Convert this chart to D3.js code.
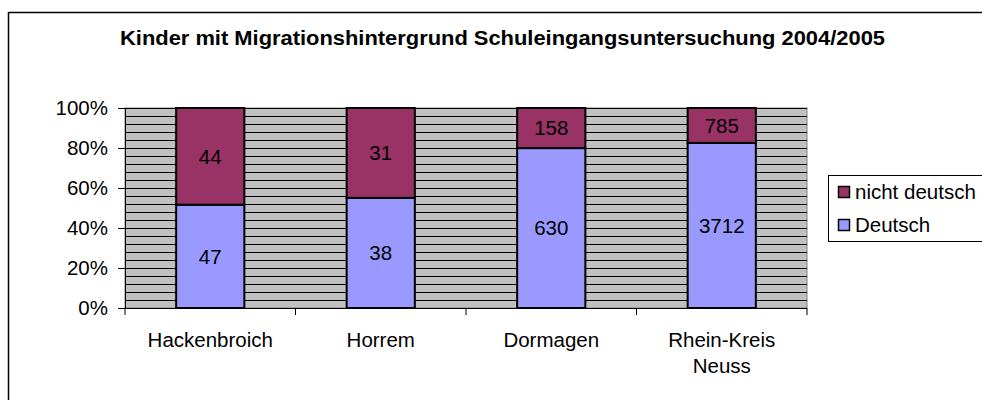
<!DOCTYPE html>
<html><head><meta charset="utf-8">
<script src="https://cdn.jsdelivr.net/npm/d3@7"></script>
<style>body{margin:0;background:#fff;overflow:hidden}svg{display:block;font-family:"Liberation Sans",Arial,sans-serif}</style>
</head><body><svg id="c" width="982" height="400"></svg>
<script>
const categories = [["Hackenbroich"], ["Horrem"], ["Dormagen"], ["Rhein-Kreis", "Neuss"]];
const deutsch = [47, 38, 630, 3712];
const nichtDeutsch = [44, 31, 158, 785];
const seriesNames = ["Deutsch", "nicht deutsch"];
const seriesColors = ["#9999FF", "#993366"];
const yTicks = [0, 0.2, 0.4, 0.6, 0.8, 1];
const title = "Kinder mit Migrationshintergrund Schuleingangsuntersuchung 2004/2005";

const FS = 20.5;
const svg = d3.select("#c");
const m = {left:125, right:807, top:108, bottom:308};

// outer frame (top and left edges visible)
svg.append("line").attr("x1",8.5).attr("x2",982).attr("y1",12.5).attr("y2",12.5).attr("stroke","#000").attr("stroke-width",1.5);
svg.append("line").attr("x1",8.5).attr("x2",8.5).attr("y1",12).attr("y2",400).attr("stroke","#000").attr("stroke-width",1.5);

svg.append("text").attr("x",502.5).attr("y",45).attr("text-anchor","middle")
  .attr("font-weight","bold").attr("font-size",20)
  .attr("textLength",765).attr("lengthAdjust","spacingAndGlyphs").text(title);

const keys = categories.map(c => c.join(" "));
const rows = keys.map((k,i)=>({key:k, "Deutsch":deutsch[i], "nicht deutsch":nichtDeutsch[i]}));
const stack = d3.stack().keys(seriesNames).offset(d3.stackOffsetExpand)(rows);

const x = d3.scaleBand().domain(keys).range([m.left, m.right]).paddingInner(0.6).paddingOuter(0.3);
const xb = d3.scaleBand().domain(keys).range([m.left, m.right]);
const y = d3.scaleLinear().domain([0,1]).range([m.bottom, m.top]);

// plot bg
svg.append("rect").attr("x",m.left).attr("y",m.top).attr("width",m.right-m.left).attr("height",m.bottom-m.top)
  .attr("fill","#C0C0C0").attr("stroke","#808080").attr("stroke-width",1);

// gridlines every 4%
svg.append("g").selectAll("line").data(d3.range(1,26).map(i=>i*0.04)).join("line")
  .attr("x1",m.left).attr("x2",m.right)
  .attr("y1",d=>Math.round(y(d))+0.5).attr("y2",d=>Math.round(y(d))+0.5)
  .attr("stroke","#000").attr("stroke-width",1);

// bars
const g = svg.append("g");
stack.forEach((s,si)=>{
  g.append("g").selectAll("rect").data(s).join("rect")
    .attr("x",d=>x(d.data.key)).attr("width",x.bandwidth())
    .attr("y",d=>y(d[1])).attr("height",d=>y(d[0])-y(d[1]))
    .attr("fill",seriesColors[si]).attr("stroke","#000").attr("stroke-width",2);
  g.append("g").selectAll("text").data(s).join("text")
    .attr("x",d=>x(d.data.key)+x.bandwidth()/2)
    .attr("y",d=>(y(d[0])+y(d[1]))/2).attr("dy","0.36em")
    .attr("text-anchor","middle").attr("font-size",FS)
    .text(d=>d.data[seriesNames[si]]);
});

// y axis
const ya = d3.axisLeft(y).tickValues(yTicks).tickFormat(d3.format(".0%")).tickSize(7).tickPadding(10);
const yg = svg.append("g").attr("transform",`translate(${m.left},0)`).call(ya);
yg.selectAll("text").attr("font-size",FS).attr("font-family","Liberation Sans, Arial, sans-serif").attr("fill","#000");
yg.select(".domain").attr("stroke","#000");

// x axis
svg.append("line").attr("x1",m.left).attr("x2",m.right).attr("y1",m.bottom+0.5).attr("y2",m.bottom+0.5).attr("stroke","#000");
const bounds = keys.map(k=>xb(k)).concat([m.right]);
svg.append("g").selectAll("line").data(bounds).join("line")
  .attr("x1",d=>d).attr("x2",d=>d).attr("y1",m.bottom).attr("y2",m.bottom+7).attr("stroke","#000");
const cl = svg.append("g").selectAll("text").data(categories).join("text")
  .attr("x",(d,i)=>xb(keys[i])+xb.bandwidth()/2).attr("y",347)
  .attr("text-anchor","middle").attr("font-size",FS);
cl.each(function(d){
  const t=d3.select(this);
  d.forEach((line,li)=>t.append("tspan").attr("x",t.attr("x")).attr("dy",li?26:0).text(line));
});

// legend
const lg = svg.append("g");
lg.append("rect").attr("x",828.5).attr("y",175.5).attr("width",300).attr("height",66)
  .attr("fill","#fff").attr("stroke","#000").attr("stroke-width",1);
const legendItems = [1,0];
legendItems.forEach((si,i)=>{
  const cy = 192 + i*33;
  lg.append("rect").attr("x",838.5).attr("y",cy-5.5).attr("width",11).attr("height",11)
    .attr("fill",seriesColors[si]).attr("stroke","#000").attr("stroke-width",1.5);
  lg.append("text").attr("x",855).attr("y",cy).attr("dy","0.36em").attr("font-size",FS).text(seriesNames[si]);
});
</script></body></html>
